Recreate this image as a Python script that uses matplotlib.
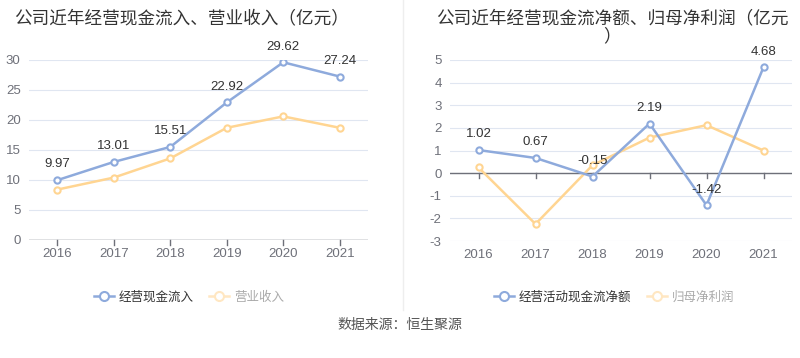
import matplotlib.pyplot as plt
from matplotlib.lines import Line2D

plt.rcParams['font.family'] = ['Liberation Sans', 'Noto Sans CJK SC', 'DejaVu Sans']
plt.rcParams['axes.unicode_minus'] = False

years = ['2016', '2017', '2018', '2019', '2020', '2021']
cash_in = [9.97, 13.01, 15.51, 22.92, 29.62, 27.24]
revenue = [8.4, 10.4, 13.6, 18.7, 20.6, 18.7]
cash_net = [1.02, 0.67, -0.15, 2.19, -1.42, 4.68]
net_profit = [0.25, -2.25, 0.35, 1.57, 2.12, 1.0]

blue = '#8eaadc'
orange = '#ffd592'
grid_c = '#e0e6f1'
tick_c = '#6e7079'
cjk = ['Noto Sans CJK SC', 'DejaVu Sans']

fig = plt.figure(figsize=(8, 3.58), dpi=100)
ax1 = fig.add_axes([29/800, 1-240/358, 339/800, 180/358])
ax2 = fig.add_axes([450/800, 1-241/358, 342/800, 181/358])

x = list(range(len(years)))


def style(ax, ylim, yticks):
    ax.set_xlim(-0.5, len(years) - 0.5)
    ax.set_ylim(*ylim)
    ax.set_yticks(yticks)
    ax.set_xticks(x)
    ax.set_xticklabels(years)
    for s in ax.spines.values():
        s.set_visible(False)
    ax.grid(axis='y', color=grid_c, linewidth=0.8)
    ax.set_axisbelow(True)
    ax.tick_params(axis='both', length=0, colors=tick_c, labelsize=9.5, pad=6)
    ax.axhline(0, color='#6e7079', linewidth=1, zorder=2)
    span = ylim[1] - ylim[0]
    for xi in x:
        ax.plot([xi, xi], [0, -span * 0.025], color='#6e7079', linewidth=1,
                clip_on=False, zorder=2)


def draw(ax, a, b):
    ax.plot(x, b, color=orange, linewidth=1.8, marker='o', markersize=4.5,
            markerfacecolor='white', markeredgewidth=1.5, zorder=3)
    ax.plot(x, a, color=blue, linewidth=1.8, marker='o', markersize=4.5,
            markerfacecolor='white', markeredgewidth=1.5, zorder=4)
    for xi, v in zip(x, a):
        ax.annotate(f'{v:.2f}', (xi, v), xytext=(0, 7), textcoords='offset points',
                    ha='center', va='bottom', fontsize=9.5, color='#333333', zorder=5)


style(ax1, (0, 30), range(0, 31, 5))
draw(ax1, cash_in, revenue)

style(ax2, (-3, 5), range(-3, 6))
draw(ax2, cash_net, net_profit)

fig.text(182/800, 1-18/358, '公司近年经营现金流入、营业收入（亿元）', ha='center', va='center',
         fontsize=12.7, color='#333333', family=cjk)
fig.text(612/800, 1-18/358, '公司近年经营现金流净额、归母净利润（亿元', ha='center', va='center',
         fontsize=12.7, color='#333333', family=cjk)
fig.text(612/800, 1-36/358, '）', ha='center', va='center', fontsize=12.7, color='#333333',
         family=cjk)

fig.add_artist(Line2D([403/800, 403/800], [1, 1-310/358], color='#eeeeee', linewidth=1))


def legend(labels, xc):
    h = [Line2D([], [], color=blue, linewidth=1.8, marker='o', markersize=6.5,
                markerfacecolor='white', markeredgewidth=1.5),
         Line2D([], [], color='#ffe7c2', linewidth=1.8, marker='o', markersize=6.5,
                markerfacecolor='white', markeredgewidth=1.5)]
    leg = fig.legend(h, labels, loc='center', bbox_to_anchor=(xc, 1-297/358), ncol=2,
                     frameon=False, prop={'family': cjk, 'size': 9}, handlelength=1.6,
                     handletextpad=0.4, columnspacing=1.2)
    leg.get_texts()[0].set_color('#333333')
    leg.get_texts()[1].set_color('#aaaaaa')


legend(['经营现金流入', '营业收入'], 189/800)
legend(['经营活动现金流净额', '归母净利润'], 614/800)

fig.text(0.5, 1-325/358, '数据来源：恒生聚源', ha='center', va='center', fontsize=10,
         color='#555555', family=cjk)

fig.savefig('out.png', dpi=100)
